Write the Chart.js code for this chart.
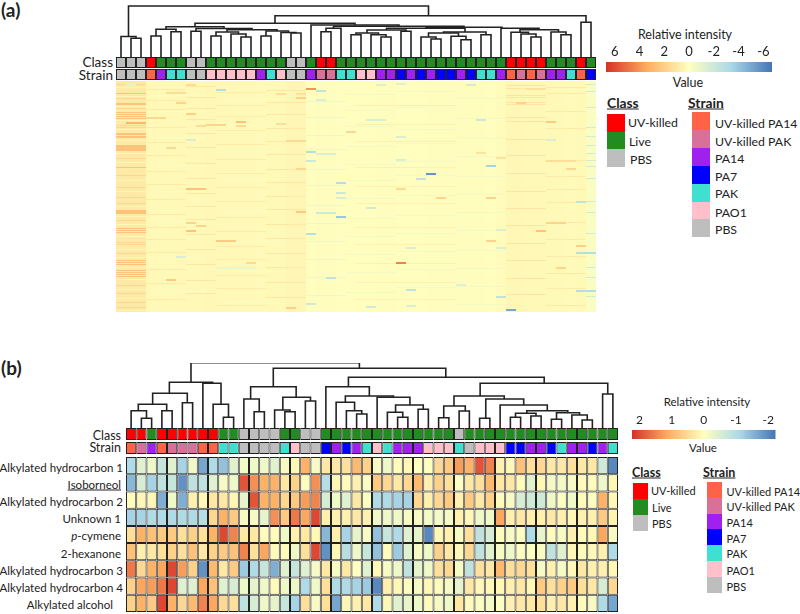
<!DOCTYPE html>
<html>
<head>
<meta charset="utf-8">
<script src="https://cdn.jsdelivr.net/npm/chart.js@4"></script>
<style>
  html, body { margin: 0; padding: 0; background: #fff; }
  #page { position: relative; width: 800px; height: 614px; overflow: hidden; font-family: Lato, sans-serif; color: #222; }
  canvas { position: absolute; }
  .t { position: absolute; transform: translateY(-50%); white-space: nowrap; font-size: 11.5px; }
  .r { transform: translate(-100%, -50%); }
  .c { transform: translate(-50%, -50%); }
  .h { font-weight: 700; text-decoration: underline; }
  .s { position: absolute; }
</style>
</head>
<body>
<div id="page"></div>
<script>
// colours of the class / strain codes
const stripColors = { r: "#ff0000", l: "#228b22", g: "#bebebe", o: "#ff6347", k: "#d8709a", p: "#a020f0", b: "#0000ff", t: "#40e0d0", i: "#ffc0cb" };

// panel (a) annotation strips
const classA = "gggrlllggllllllllgglrr".concat("lllllllllllllllllrrrrlllrl").split("");
const strainA = "gggopttggiiiiiptiggpkk".concat("ttiippbpbpbbpbttpokokpptob").split("");

// panel (b) annotation strips
const classB = "rrlrrrrrrllggggllgg".concat("lllllllllllllglllllllllllllll").split("");
const strainB = "okpokkkoottggggtigg".concat("bpbptitpppiiitgiiibbppbtppbpt").split("");

// panel (b) compounds and values, one array per row
const compoundsB = ["Alkylated hydrocarbon 1", "Isoborneol", "Alkylated hydrocarbon 2", "Unknown 1", "p-cymene", "2-hexanone", "Alkylated hydrocarbon 3", "Alkylated hydrocarbon 4", "Alkylated alcohol"];
const rowAH1 = [-1.0,-.4,-.2,-.7,-.4,-1.1,-.2,-1.6,-1.0,-1.3,-.4,-.15,-.2,-.2,-.4,-.1,.1,1.0,-.1,.3,.3,.4,.9,.6,-.1,-.2,.05,.1,0,0,.5,.7,1.2,1.0,1.8,1.4,.2,.1,.8,.4,.5,.3,.3,.4,.3,.3,-.6,-1.9];
const rowIso = [-1.4,-.5,-1.1,-.8,-.7,-1.8,-.8,-.8,-.4,-.1,-.2,1.8,1.3,1.0,1.0,.3,.6,.05,1.3,-.9,.1,.05,.2,-.05,.7,.5,.3,.5,.9,.2,.6,.4,-.05,.3,.4,.9,.3,.3,.05,-.4,.1,-.15,-.15,-.1,.05,.05,-.2,.1];
const rowAH2 = [.05,.1,.1,-1.5,-.2,-1.5,.2,.1,.3,.3,.1,-.3,1.8,1.0,1.0,.5,.7,1.2,1.4,-.5,-.2,-.4,.3,-.05,-1.0,-1.0,-1.1,-1.1,.5,.2,.5,.7,.2,.7,.3,.6,.05,-.1,-.5,-.6,-.6,-.2,-.05,-.2,.05,-.05,1.0,.1];
const rowUnk = [-1.1,-1.1,-1.0,-1.0,-1.0,-1.0,-1.0,-.9,.5,1.0,.7,-.1,-.1,-.3,1.3,.7,1.5,1.1,1.9,.2,.2,.2,.3,.2,-.2,-.2,-.2,-.1,-.1,-.15,-.15,-.15,.2,.1,-.2,-.2,1.1,.2,.3,.2,.2,.3,.2,.1,.2,.2,.7,.15];
const rowCym = [.4,1.0,.8,.7,.7,.4,.6,.4,1.0,1.9,1.4,.3,.3,.05,.05,-.2,.2,.3,.1,-1.4,.2,-1.1,-.3,-.1,-1.3,-.7,-1.0,-.4,-.3,-1.9,.1,.2,-.1,.4,-.8,-.5,.05,-.1,-.05,-1.0,-.3,.05,-.1,.2,.05,.1,1.1,-.1];
const rowHex = [.8,.2,.3,.4,.6,.4,.8,.3,.6,.7,.8,1.4,.4,1.1,.05,.05,-.2,.4,1.9,-1.8,.1,-.9,-.2,-.7,-1.3,.05,-1.2,-.4,-.1,-.2,.6,.3,.1,.5,-.8,-.4,-.1,-.2,-.05,-.05,-.1,-.8,-.4,.1,.05,.1,.2,-1.0];
const rowAH3 = [1.5,.5,1.0,1.1,1.9,1.2,.6,-1.8,.9,.3,.7,-1.2,-1.0,-.7,-1.5,-.4,-.7,-.4,-.1,.3,-.1,.3,0,-.4,.1,-.1,-.2,-.8,-.3,-.2,.4,.5,-.1,-.8,.4,.3,.9,.4,.5,.4,-.1,.2,-.1,.1,.3,.2,.2,.1];
const rowAH4 = [.6,1.1,1.2,1.5,1.9,-.4,-.4,1.1,.8,-.4,-.5,-.2,-.3,-.2,.05,-.2,-.2,-1.0,-.2,.4,-1.0,-1.0,-1.1,-1.2,-1.9,.2,.1,-.05,-.1,.1,.05,-.1,-.3,.3,.1,.1,.1,.2,.3,.1,.7,.4,.6,.7,.4,.3,-.5,.5];
const rowAlc = [.6,1.0,.7,1.9,1.0,.5,.9,1.4,1.1,.5,.4,-.8,-.5,-.2,-.3,-.7,-1.1,.4,-.1,.4,-1.6,.1,.2,.3,-1.0,.1,-.4,-.3,-.2,.05,-.1,-.2,.3,.05,-.05,-.15,-.05,.2,.3,.3,.4,.2,.3,.2,.05,-.1,-1.0,-1.6];
const heatB = [rowAH1, rowIso, rowAH2, rowUnk, rowCym, rowHex, rowAH3, rowAH4, rowAlc];

// panel (a): overall level of each sample column
const levelsA = [.85,.85,.85,.3,.25,.25,.3,.3,.3,.35,.3,.3,.3,.3,.2,.25,.25,.4,.4,.03,.08,.08,.03,.03,.03,.03,.08,.08,.03,.03,.03,.08,.08,.08,.08,.08,.08,.03,.15,.35,.35,.3,.25,.25,.25,.2,.25,-.2];

// panel (a): streaks as [first column, last column, value, feature rows]
const bandsA = [
  [0,2,2.5,[12,22,23,31,33,35,37,52,53,55,56,64,65,66,67,68,69,86,129,130,131,132,147,149,151,179,181,183,189,191,193,195]],
  [0,2,1.7,[3,17,27,44,46,77,94,106,116,122,139,161,163,172,204,212,221,226]],
  [0,2,.4,[6,15,25,39,48,59,72,81,99,110,125,135,143,155,168,176,186,198,208,217,229]],
  [1,2,3.0,[41,42]],
  [3,6,.9,[8,19,28,46,61,74,90,103,118,133,146,158,171,188,202,218]],
  [7,9,1.0,[5,16,27,38,52,66,82,97,112,125,138,153,168,183,199,212]],
  [10,14,.8,[11,24,35,49,63,78,92,106,120,136,150,165,178,194,207,224]],
  [15,18,1.0,[9,21,33,47,60,73,88,101,115,128,143,157,172,186,201,216]],
  [4,8,-.2,[14,30,56,84,110,140,176,210]],
  [11,16,-.2,[18,44,70,98,130,160,190,222]],
  [19,22,-.7,[20,36,54,68,88,104,124,142,160,178,196,214]],
  [23,27,-.5,[13,29,45,65,83,99,117,137,155,173,191,211]],
  [28,33,-.5,[10,26,48,62,80,94,114,134,152,170,188,206]],
  [34,38,-.5,[17,37,57,75,95,113,131,149,169,187,205,223]],
  [24,33,.6,[24,43,60,86,105,122,146,163,182,201,218]],
  [39,42,1.1,[4,7,14,16,21,23,36,40,58,74,92,110,127,144,162,179,197,213]],
  [43,46,.9,[6,12,30,47,79,95,108,121,141,158,175,192,207,224]],
  [47,47,-1.8,[3,10,26,46,55,64,72,79,85,97,120,131,152,171,186,196,209,215]]
];

// panel (a): single outlying cells as [first column, last column, value, feature row]
const streaksA = [
  [1,1,-1,3],[10,10,-3,8],[19,19,4,7],[20,20,-2.5,9],[20,20,-1.5,18],[6,6,1.8,21],[12,12,2.5,40],[12,12,1.5,44],
  [19,19,-3,70],[19,19,-2,79],[7,7,-1.5,58],[7,8,2.5,107],[22,22,-3,101],[22,22,-2,111],[22,22,-1.5,116],[23,23,1.6,50],
  [20,21,-1.5,72],[3,4,1.6,36],[5,5,1.5,66],[7,7,2,32],[8,8,1.5,44],[9,10,1.8,43],[16,16,1.3,42],[18,18,2,16],[18,18,1.7,87],
  [17,18,1.5,59],[5,6,1.4,11],[7,7,1.4,3],[18,18,1.3,12],[16,16,1.4,12],[31,31,-5.6,92],[30,30,-2.5,97],[37,37,-3.5,84],
  [36,36,-2,38],[25,26,-1.5,38],[26,26,-1.5,3],[28,28,-1.2,2],[35,35,-1.8,3],[43,43,2.2,40],[43,43,-1.5,58],[28,28,-1.5,55],
  [28,28,-1.5,78],[40,40,1.8,21],[38,38,1.2,76],[36,36,1.2,71],[28,28,1.5,107],[43,45,1.4,79],[45,45,1.6,87],[41,42,1.3,7],
  [28,28,4.5,181],[39,39,-5,228],[22,22,-4,135],[42,42,2.5,149],[7,7,2.5,149],[10,11,2.2,159],[19,19,-3,152],[46,47,-3,171],
  [46,46,2,164],[46,46,-2.5,120],[46,47,-3,209],[29,29,-2.5,208],[21,21,-2.5,196],[20,21,-2,131],[5,5,2.2,198],[18,18,2.2,130],
  [17,17,2,226],[38,38,-2.5,215],[38,38,-1.5,166],[37,37,1.8,159],[43,44,1.8,141],[37,37,1.8,116],[32,32,1.8,116],[25,25,-1.8,126],
  [29,29,-1.5,166],[44,44,1.8,186],[38,38,-1.5,148],[6,6,-1.5,175],[7,7,1.8,141],[8,8,1.8,144],[13,13,1.5,181],[10,13,-.8,186],
  [19,19,-2,222],[29,29,-1.5,224],[25,25,-1.8,225],[34,34,-1.2,203]
];

// dendrograms as [left x, right x, top height, left leg foot, right leg foot]
const treeA = [
  [1,2,18.7,0,0],[0,1.5,20.5,0,18.7],[.75,30.75,51,20.5,41.3],[15.4,46.5,41.3,33.7,34.7],[46,47,34.7,0,0],
  [7.4,23.4,33.7,30.3,32],[4.5,10.3,30.3,27.7,28.5],[3,4,21,0,0],[5,6,25.3,0,0],[3.5,5.5,27.7,21,25.3],
  [7,8,25.7,0,0],[7.5,13.1,28.5,25.7,27.3],[9,10,21,0,0],[12,13,20,0,0],[11,12.5,23,0,20],[9.5,11.75,25,21,23],
  [14,15,21,0,0],[17,18,24,0,0],[16,17.5,24.5,0,24],[14.5,16.75,26,21,24.5],[10.6,15.6,27.3,25,26],
  [19,27.8,32,0,30.7],[21.25,34.3,30.7,28.7,29.7],[20,21,25.3,0,0],[20.5,22,28.7,25.3,0],
  [30.5,38.1,29.7,28.7,28.7],[26.55,34.4,28.7,27,25],[24.6,28.5,27,24,25.7],[23,24,22.3,0,0],[26,27,20,0,0],
  [25,26.5,22.3,0,20],[23.5,25.75,24,22.3,22.3],[28,29,25.7,0,0],[30,31.5,20,0,18],[31,32,18,0,0],[34,35,17.3,0,0],
  [33,34.5,20.7,0,17.3],[30.75,33.75,24,20,20.7],[36,37,22.3,0,0],[32.25,36.5,25,24,22.3],
  [38,41.8,28.7,0,27.3],[39.9,43.75,27.3,24.7,25],[41,42,20,0,0],[40,41.5,23,0,20],[39,40.75,24.7,0,23],[44,45,22.3,0,0],[43,44.5,25,0,22.3]
];
const treeB = [
  [5.84,22.27,65.3,45.7,59.7],[13.87,30.7,59.7,41.3,50.7],[11.66,16.1,41.3,29,30.7],[21.2,40.3,50.7,41.3,44.7],
  [3.73,7.95,45.7,34.7,44.7],[2.1,5.48,34.7,23.7,25.3],[.7,3.47,23.7,17.3,17.3],[0,1.5,17.3,0,9.7],[1,2,9.7,0,0],[3,4,17.3,0,0],[5,6,25.3,0,0],
  [7,8.77,44.7,0,23.7],[8,9.5,23.7,0,10.7],[9,10,10.7,0,0],[11,12.5,29,0,16.3],[12,13,16.3,0,0],[14.8,17.5,30.7,18,27],[14,15.5,18,0,16.3],[15,16,16.3,0,0],[17,18,27,0,0],
  [19,23.24,41.3,0,32],[20.9,25.6,32,25.7,30.7],[20,21.8,25.7,0,17.3],[21,22.5,17.3,0,14],[22,23,14,0,0],
  [24,27.2,30.7,0,23],[25.8,28.5,23,15.7,18.7],[25,26.5,15.7,0,10.7],[26,27,10.7,0,0],[28,29,18.7,0,0],
  [34.05,46.5,44.7,32,34],[46,47,34,0,0],[31.5,36.4,32,22,29],[30.5,32.6,22,10.3,17],[30,31,10.3,0,0],[32,33,17,0,0],
  [34.6,38.3,29,9.7,23],[34,35,9.7,0,0],[36,40.6,23,0,17.3],[38.6,42.6,17.3,14.7,15.3],[37,38,10.7,0,0],[39,40,12,0,0],[37.5,39.5,14.7,10.7,12],
  [41,42,8.7,0,0],[44,45,8,0,0],[43,44.5,13,0,8],[41.5,43.75,15.3,8.7,13]
];

// colour bars and legends
const ticksA = [6, 4, 2, 0, -2, -4, -6];
const ticksB = [2, 1, 0, -1, -2];
const rampColors = ["#d73027", "#fdae61", "#ffffbf", "#abd9e9", "#4575b4"];
const classNames = ["UV-killed", "Live", "PBS"];
const classCodes = ["r", "l", "g"];
const strainNames = ["UV-killed PA14", "UV-killed PAK", "PA14", "PA7", "PAK", "PAO1", "PBS"];
const strainCodes = ["o", "k", "p", "b", "t", "i", "g"];

const page = document.getElementById("page");
const INK = "#222";

function valueColor(v, vmax) {
  // t runs from 0 at +vmax to 1 at -vmax over the five ramp colours
  const t = Math.min(1, Math.max(0, (vmax - v) / (2 * vmax))) * 4;
  const i = Math.min(3, Math.floor(t));
  const a = parseInt(rampColors[i].slice(1), 16);
  const b = parseInt(rampColors[i + 1].slice(1), 16);
  const mix = (shift) => Math.round(((a >> shift) & 255) + (((b >> shift) & 255) - ((a >> shift) & 255)) * (t - i));
  return `rgb(${mix(16)},${mix(8)},${mix(0)})`;
}

function addCanvas(left, top, width, height) {
  const c = document.createElement("canvas");
  c.width = width;
  c.height = height;
  c.style.left = left + "px";
  c.style.top = top + "px";
  c.style.width = width + "px";
  c.style.height = height + "px";
  page.appendChild(c);
  return c;
}

function text(str, left, top, cls, extra) {
  const d = document.createElement("div");
  d.className = "t " + (cls || "");
  d.style.left = left + "px";
  d.style.top = top + "px";
  d.innerHTML = str;
  if (extra) d.style.cssText += extra;
  page.appendChild(d);
}

function swatch(left, top, width, height, color) {
  const d = document.createElement("div");
  d.className = "s";
  d.style.cssText += `left:${left}px;top:${top}px;width:${width}px;height:${height}px;background:${color}`;
  page.appendChild(d);
}

const hiddenAxis = { display: false };
const baseOptions = {
  responsive: false,
  animation: false,
  events: [],
  layout: { padding: 0 },
  plugins: { legend: { display: false }, tooltip: { enabled: false } }
};

function drawTree(left, top, width, height, links) {
  const datasets = links.map(([x0, x1, h, foot0, foot1]) => ({
    data: [{ x: x0, y: foot0 }, { x: x0, y: h }, { x: x1, y: h }, { x: x1, y: foot1 }],
    showLine: true,
    borderColor: INK,
    borderWidth: 1.6,
    pointRadius: 0,
    tension: 0
  }));
  new Chart(addCanvas(left, top, width, height), {
    type: "scatter",
    data: { datasets },
    options: {
      ...baseOptions,
      scales: {
        x: { ...hiddenAxis, type: "linear", min: -0.5, max: 47.5 },
        y: { ...hiddenAxis, type: "linear", min: 0, max: height }
      }
    }
  });
}

function drawStrip(left, top, width, height, codes) {
  new Chart(addCanvas(left, top, width, height), {
    type: "bar",
    data: {
      labels: codes.map((_, i) => i),
      datasets: [{
        data: codes.map(() => [0, 1]),
        backgroundColor: codes.map((c) => stripColors[c]),
        borderColor: INK,
        borderWidth: 1,
        borderSkipped: false,
        inflateAmount: 0,
        barPercentage: 1,
        categoryPercentage: 1
      }]
    },
    options: { ...baseOptions, scales: { x: hiddenAxis, y: { ...hiddenAxis, min: 0, max: 1 } } }
  });
}

function drawHeatB(left, top, width, height) {
  const datasets = heatB.map((row, r) => ({
    data: row.map(() => [r, r + 1]),
    backgroundColor: row.map((v) => valueColor(v, 2.1)),
    borderColor: INK,
    borderWidth: 1,
    borderSkipped: false,
    inflateAmount: 0,
    grouped: false,
    barPercentage: 1,
    categoryPercentage: 1
  }));
  new Chart(addCanvas(left, top, width, height), {
    type: "bar",
    data: { labels: strainB.map((_, i) => i), datasets },
    options: { ...baseOptions, scales: { x: hiddenAxis, y: { ...hiddenAxis, reverse: true, min: 0, max: heatB.length } } }
  });
}

function drawHeatA(left, top, width, height) {
  const flat = [];
  bandsA.forEach(([c0, c1, v, rows]) => rows.forEach((row) => flat.push([c0, c1, v, row, 1])));
  streaksA.forEach((s) => flat.push([...s, 2]));
  const bar = { borderWidth: 0, inflateAmount: 0, grouped: false, barPercentage: 1, categoryPercentage: 1 };
  // earlier datasets paint on top, so the single streaks go first and the column base last
  const datasets = flat.reverse().map(([c0, c1, v, row, span]) => ({
    ...bar,
    data: levelsA.map((_, i) => (i >= c0 && i <= c1 ? [row, row + span] : null)),
    backgroundColor: valueColor(v, 6.7)
  }));
  datasets.push({
    ...bar,
    data: levelsA.map(() => [0, height]),
    backgroundColor: levelsA.map((v) => valueColor(v, 6.7))
  });
  new Chart(addCanvas(left, top, width, height), {
    type: "bar",
    data: { labels: levelsA.map((_, i) => i), datasets },
    options: { ...baseOptions, scales: { x: hiddenAxis, y: { ...hiddenAxis, reverse: true, min: 0, max: height } } }
  });
}

function drawColorBar(left, top, width, height, ticks, limit, fontSize) {
  new Chart(addCanvas(left, top, width, height), {
    type: "bar",
    data: {
      labels: ["Value"],
      datasets: [{
        data: [[-limit, limit]],
        barPercentage: 1,
        categoryPercentage: 1,
        borderWidth: 0,
        inflateAmount: 0,
        backgroundColor: (ctx) => {
          const area = ctx.chart.chartArea;
          if (!area) return rampColors[2];
          const g = ctx.chart.ctx.createLinearGradient(area.left, 0, area.right, 0);
          rampColors.forEach((c, i) => g.addColorStop(i / (rampColors.length - 1), c));
          return g;
        }
      }]
    },
    options: {
      ...baseOptions,
      indexAxis: "y",
      scales: {
        y: hiddenAxis,
        x: {
          type: "linear",
          position: "top",
          reverse: true,
          min: -limit,
          max: limit,
          // drawTicks off: otherwise labels get pushed out of the axis box
          grid: { display: false, drawTicks: false },
          border: { display: false },
          afterBuildTicks: (axis) => { axis.ticks = ticks.map((value) => ({ value })); },
          afterFit: (axis) => { axis.height = fontSize * 1.2 + 2.4; },
          ticks: { color: INK, font: { family: "Lato", size: fontSize }, padding: 2, maxRotation: 0, autoSkip: false }
        }
      }
    }
  });
}

function drawLegend(o) {
  const fs = `font-size:${o.size}px`;
  text("Class", o.classTitleX, o.titleY, "h", `font-size:${o.size + 1.5}px`);
  text("Strain", o.strainTitleX, o.titleY, "h", `font-size:${o.size + 1.5}px`);
  classNames.forEach((name, i) => {
    swatch(o.classX, o.classTops[i], o.swatchW, o.classTops[i + 1] - o.classTops[i], stripColors[classCodes[i]]);
    text(name, o.classTextX[i], o.classTextY[i], "", fs);
  });
  strainNames.forEach((name, i) => {
    swatch(o.strainX, o.strainTops[i], o.swatchW, o.strainTops[i + 1] - o.strainTops[i], stripColors[strainCodes[i]]);
    text(name, o.strainTextX, o.strainTextY[i], "", fs);
  });
}

// panel (a)
text("(a)", 1, 9, "", "font-weight:700;font-size:19px");
drawTree(116, 0, 480, 57, treeA);
drawStrip(116, 57, 480, 11, classA);
drawStrip(116, 69, 480, 11, strainA);
drawHeatA(116, 81, 480, 231);
text("Class", 113, 62, "r", "font-size:13.5px");
text("Strain", 113, 74.5, "r", "font-size:13.5px");
text("Relative intensity", 685, 34, "c", "font-size:12.5px");
drawColorBar(606, 44, 166, 28, ticksA, 6.7, 13);
text("Value", 688, 82, "c", "font-size:12.5px");
drawLegend({
  size: 12.3, titleY: 102, classTitleX: 607, strainTitleX: 688, swatchW: 18,
  classX: 607, classTops: [114, 131.5, 149, 167], classTextX: [628, 629, 630], classTextY: [122, 141, 159],
  strainX: 692, strainTops: [112, 130, 148, 166, 184, 202, 219, 237], strainTextX: 715, strainTextY: [123, 141, 158, 176, 193, 212, 229]
});

// panel (b)
text("(b)", 1, 367, "", "font-weight:700;font-size:19px");
drawTree(126, 363, 492, 65, treeB);
drawStrip(126, 428, 492, 12, classB);
drawStrip(126, 442, 492, 12, strainB);
drawHeatB(126, 457, 492, 155);
text("Class", 121, 435, "r", "font-size:12.5px");
text("Strain", 121, 447, "r", "font-size:12.5px");
const rowRight = [123, 121, 123, 121, 121, 121, 123, 123, 113];
compoundsB.forEach((name, i) => {
  let label = name;
  if (name === "Isoborneol") label = "<u>Isoborneol</u>";
  if (name === "p-cymene") label = "<i>p</i>-cymene";
  text(label, rowRight[i], 466.5 + i * 17.2, "r");
});
text("Relative intensity", 707, 401, "c", "font-size:11.5px");
drawColorBar(632, 413, 144, 26, ticksB, 2.23, 12);
text("Value", 703, 447, "c", "font-size:11.5px");
drawLegend({
  size: 11, titleY: 472, classTitleX: 632, strainTitleX: 703, swatchW: 15,
  classX: 633, classTops: [483, 499, 515, 531], classTextX: [651, 652, 652], classTextY: [490, 507, 523],
  strainX: 707, strainTops: [482, 497.5, 513.5, 529, 545, 561, 577, 593], strainTextX: 726.5, strainTextY: [491, 506, 522, 538, 553, 570, 586]
});
</script>
</body>
</html>
